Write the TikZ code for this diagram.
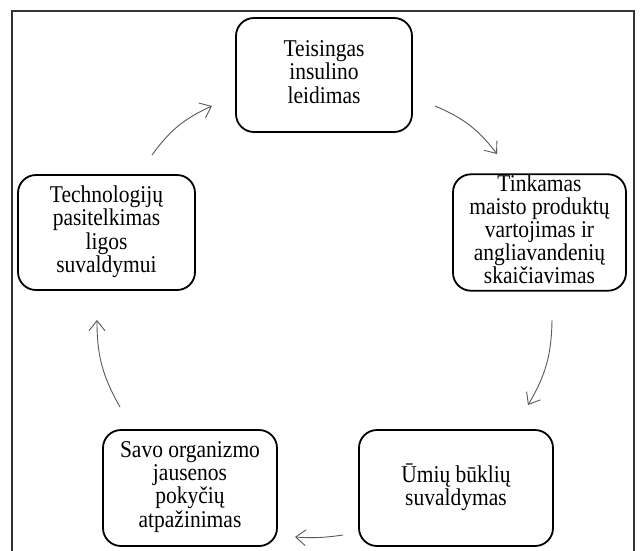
\documentclass[tikz,border=0pt]{standalone}
\usepackage{fontspec}
\usepackage{graphicx}
\setmainfont{Liberation Serif}
\usetikzlibrary{arrows.meta}
\newcommand{\vstr}[1]{\scalebox{1}[1.12]{\begin{tabular}{@{}c@{}}#1\end{tabular}}}
\begin{document}
\begin{tikzpicture}[x=1pt,y=-1pt,
  box/.style={draw=black, line width=1.8pt, rounded corners=18pt, align=center,
    inner sep=0pt, font=\fontsize{21.5}{20}\selectfont},
  flow/.style={-{Straight Barb[length=10pt,width=16pt]}, draw=black!65, line width=0.9pt},
  frame/.style={draw=black!80, line width=2pt}]
\useasboundingbox (0,0) rectangle (641,550);
\fill[white] (0,0) rectangle (641,550);
\draw[frame] (12,551) -- (12,11) -- (634,11) -- (634,551);

\node[box, minimum width=176pt, minimum height=114pt] (top) at (324,75)
  {\vstr{Teisingas\\insulino\\leidimas}};
\node[box, minimum width=173pt, minimum height=115pt] (right) at (539.5,232.5)
  {\vstr{Tinkamas\\maisto produktų\\vartojimas ir\\angliavandenių\\skaičiavimas}};
\node[box, minimum width=194pt, minimum height=116pt] (br) at (456,488)
  {\vstr{Ūmių būklių\\suvaldymas}};
\node[box, minimum width=174pt, minimum height=116pt] (bl) at (190,488)
  {\vstr{Savo organizmo\\jausenos\\pokyčių\\atpažinimas}};
\node[box, minimum width=177pt, minimum height=115pt] (left) at (106.5,232.5)
  {\vstr{Technologijų\\pasitelkimas\\ligos\\suvaldymui}};

\coordinate (a1s) at (152,155); \coordinate (a1e) at (212,106);
\coordinate (a2s) at (435,106); \coordinate (a2e) at (497,154);
\coordinate (a3s) at (552,320); \coordinate (a3e) at (528,405);
\coordinate (a4s) at (343,535); \coordinate (a4e) at (295,537);
\coordinate (a5s) at (120,407); \coordinate (a5e) at (97,320);

\draw[flow] (a1s) to[bend left=15] (a1e);
\draw[flow] (a2s) to[bend left=15] (a2e);
\draw[flow] (a3s) to[bend left=15] (a3e);
\draw[flow] (a4s) to[bend left=6] (a4e);
\draw[flow] (a5s) to[bend left=15] (a5e);
\end{tikzpicture}
\end{document}
